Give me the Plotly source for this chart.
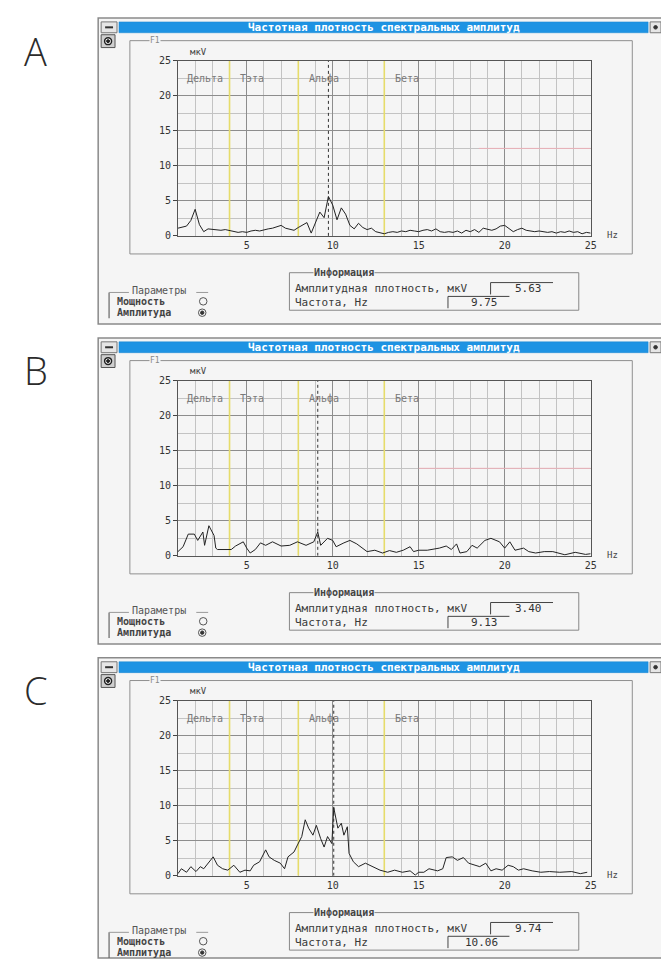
import plotly.graph_objects as go

# The page body has an 8px margin; the figure is shifted to compensate.
PAGE_W, PAGE_H = 669, 965
M = 8
W, H = PAGE_W - M, PAGE_H - M

# ---------------- data ----------------
freq_a = [1.0, 1.25, 1.5, 1.75, 2.0, 2.25, 2.5, 2.75, 3.0, 3.25, 3.5, 3.75, 4.0, 4.25, 4.5, 4.75,
          5.0, 5.25, 5.5, 5.75, 6.0, 6.25, 6.5, 6.75, 7.0, 7.25, 7.5, 7.75, 8.0, 8.25, 8.5, 8.75,
          9.0, 9.25, 9.5, 9.75, 10.0, 10.25, 10.5, 10.75, 11.0, 11.25, 11.5, 11.75, 12.0, 12.25,
          12.5, 12.75, 13.0, 13.25, 13.5, 13.75, 14.0, 14.25, 14.5, 14.75, 15.0, 15.25, 15.5,
          15.75, 16.0, 16.25, 16.5, 16.75, 17.0, 17.25, 17.5, 17.75, 18.0, 18.25, 18.5, 18.75,
          19.0, 19.25, 19.5, 19.75, 20.0, 20.25, 20.5, 20.75, 21.0, 21.25, 21.5, 21.75, 22.0,
          22.25, 22.5, 22.75, 23.0, 23.25, 23.5, 23.75, 24.0, 24.25, 24.5, 24.75, 25.0]
amp_a = [1.1, 1.3, 1.4, 2.2, 3.8, 1.6, 0.6, 1.0, 0.9, 0.8, 0.8, 0.9, 0.8, 0.6, 0.5, 0.6,
         0.5, 0.7, 0.8, 0.7, 0.9, 1.0, 1.1, 1.3, 1.5, 1.1, 1.0, 0.8, 1.2, 1.6, 1.9, 0.4,
         2.0, 3.4, 2.6, 5.63, 4.4, 2.3, 4.0, 3.1, 1.5, 1.0, 1.8, 1.2, 0.9, 1.1,
         0.6, 0.5, 0.3, 0.5, 0.6, 0.5, 0.7, 0.6, 0.8, 0.7, 0.6, 0.8, 0.9,
         0.7, 1.0, 0.6, 0.5, 0.6, 0.5, 0.7, 0.4, 0.8, 0.6, 0.9, 0.5, 1.1,
         0.9, 0.8, 1.0, 1.4, 1.5, 1.0, 0.6, 0.9, 1.1, 0.8, 0.7, 0.6, 0.7,
         0.6, 0.5, 0.6, 0.4, 0.6, 0.5, 0.7, 0.5, 0.6, 0.3, 0.5, 0.4]

freq_b = [1.0, 1.3, 1.6, 1.95, 2.15, 2.45, 2.55, 2.8, 3.1, 3.2, 3.3, 4.1, 4.35, 4.8, 5.0, 5.2,
          5.5, 5.8, 6.1, 6.5, 7.0, 7.5, 7.95, 8.45, 8.9, 9.13, 9.3, 9.7, 10.0, 10.2, 10.65,
          11.0, 11.4, 11.7, 12.0, 12.45, 12.9, 13.3, 13.7, 14.1, 14.5, 14.7, 15.0, 15.5, 16.2,
          16.6, 16.9, 17.2, 17.4, 17.8, 18.1, 18.4, 18.85, 19.2, 19.7, 20.0, 20.3, 20.6, 21.1,
          21.4, 21.8, 22.3, 22.8, 23.5, 24.1, 24.7, 25.0]
amp_b = [0.6, 1.3, 3.1, 3.1, 2.2, 3.4, 1.5, 4.3, 2.9, 1.1, 0.9, 0.9, 1.4, 2.0, 1.1, 0.4,
         0.9, 1.85, 1.5, 2.0, 1.4, 1.5, 2.0, 1.5, 2.0, 3.4, 1.5, 2.5, 2.2, 1.3, 1.85,
         2.2, 1.7, 1.1, 0.6, 0.8, 0.4, 0.75, 0.5, 0.8, 1.3, 0.6, 0.8, 0.8, 1.1,
         1.4, 0.9, 1.7, 0.4, 0.6, 1.5, 1.1, 2.2, 2.5, 2.0, 1.1, 2.0, 0.8, 1.1,
         0.6, 0.4, 0.6, 0.6, 0.15, 0.5, 0.2, 0.3]

freq_c = [1.0, 1.2, 1.5, 1.75, 2.05, 2.3, 2.5, 2.85, 3.05, 3.3, 3.6, 3.9, 4.25, 4.6, 4.9, 5.2,
          5.4, 5.75, 6.1, 6.3, 6.6, 6.95, 7.2, 7.4, 7.75, 7.95, 8.2, 8.4, 8.6, 8.85, 9.05,
          9.3, 9.5, 9.7, 9.95, 10.06, 10.3, 10.5, 10.65, 10.85, 10.95, 11.2, 11.5, 11.9, 12.3,
          12.75, 13.2, 13.6, 14.05, 14.5, 14.8, 15.0, 15.3, 15.6, 16.1, 16.4, 16.6, 16.95,
          17.25, 17.6, 17.9, 18.25, 18.55, 18.9, 19.2, 19.5, 19.85, 20.2, 20.5, 20.8, 21.1,
          21.6, 22.1, 22.6, 23.2, 23.9, 24.4, 24.8]
amp_c = [0.3, 1.0, 0.5, 1.3, 0.6, 1.3, 1.0, 2.0, 2.7, 1.5, 1.0, 0.8, 1.5, 0.5, 0.8, 0.7,
         1.5, 2.0, 3.7, 2.7, 2.2, 1.8, 1.0, 2.7, 3.4, 4.4, 5.6, 8.0, 6.8, 5.8, 7.2,
         5.3, 4.1, 5.6, 4.6, 9.74, 6.8, 7.5, 5.8, 7.0, 3.2, 2.0, 1.3, 1.8, 1.3,
         0.8, 0.5, 0.8, 0.5, 0.7, 0.1, 0.5, 0.5, 1.0, 0.7, 1.0, 2.6, 2.7,
         2.2, 2.6, 1.8, 1.5, 1.3, 1.8, 0.7, 1.0, 0.8, 1.5, 1.3, 0.8, 1.0,
         0.7, 0.5, 0.6, 0.5, 0.6, 0.3, 0.5]

panel_letters = ["A", "B", "C"]
cursor_freq = [9.75, 9.13, 10.06]
cursor_amp_text = ["5.63", "3.40", "9.74"]
cursor_freq_text = ["9.75", "9.13", "10.06"]
band_names = ["Дельта", "Тэта", "Альфа", "Бета"]
band_label_pos = [1.4, 4.5, 8.5, 13.5]
band_edges = [4, 8, 13]
y_ticks = [0, 5, 10, 15, 20, 25]
x_ticks = [5, 10, 15, 20, 25]
# faint pink stretches of the 12.5 gridline seen in the scan (start Hz per panel, None = none)
pink_grid_start = [18.5, 15.0, None]

window_title = "Частотная плотность спектральных амплитуд"
info_title = "Информация"
amp_label = "Амплитудная плотность, мкV"
freq_label = "Частота, Hz"
param_title = "Параметры"
param_power = "Мощность"
param_amp = "Амплитуда"
y_unit = "мкV"
x_unit = "Hz"
group_label = "F1"

series = [(freq_a, amp_a), (freq_b, amp_b), (freq_c, amp_c)]
offsets = [0, 324, 648]

# ---------------- helpers ----------------
FONT = "DejaVu Sans Mono"
WIN_BG = "#f5f5f5"


def X(px):
    return (px - M) / W


def Y(py):
    return 1 - (py - M) / H


shapes = []
annotations = []


def rect(x0, y0, x1, y1, line="#8a8a8a", fill=None, lw=1, layer="below"):
    shapes.append(dict(type="rect", xref="paper", yref="paper",
                       x0=X(x0), x1=X(x1), y0=Y(y1), y1=Y(y0),
                       line=dict(color=line, width=lw),
                       fillcolor=fill if fill else "rgba(0,0,0,0)", layer=layer))


def line(x0, y0, x1, y1, color="#8a8a8a", lw=1, layer="below"):
    shapes.append(dict(type="line", xref="paper", yref="paper",
                       x0=X(x0), x1=X(x1), y0=Y(y0), y1=Y(y1),
                       line=dict(color=color, width=lw), layer=layer))


def circle(cx, cy, r, color="#555", fill=None, lw=1):
    shapes.append(dict(type="circle", xref="paper", yref="paper",
                       x0=X(cx - r), x1=X(cx + r), y0=Y(cy + r), y1=Y(cy - r),
                       line=dict(color=color, width=lw),
                       fillcolor=fill if fill else "rgba(0,0,0,0)", layer="above"))


def txt(s, x, y, size=9, color="#555", xanchor="left", bg=None, family=FONT, weight=None):
    f = dict(family=family, size=size, color=color)
    if weight:
        f["weight"] = weight
    a = dict(text=s, x=X(x), y=Y(y), xref="paper", yref="paper", showarrow=False,
             xanchor=xanchor, yanchor="middle", font=f, borderpad=0)
    if bg:
        a["bgcolor"] = bg
    annotations.append(a)


fig = go.Figure()

for i, o in enumerate(offsets):
    fx, fy = series[i]
    xa = "x" if i == 0 else f"x{i+1}"
    ya = "y" if i == 0 else f"y{i+1}"
    xkey = "xaxis" if i == 0 else f"xaxis{i+1}"
    ykey = "yaxis" if i == 0 else f"yaxis{i+1}"

    # window chrome
    rect(99, 12 + o, 668, min(322 + o, 964), line="#8a8a8a", fill=WIN_BG, lw=1.5)
    rect(120, 16 + o, 654, 27 + o, line="#1a86d0", fill="#1e93e3", lw=0.5)
    txt(window_title, 387, 21.5 + o, size=11, color="#ffffff", xanchor="center", weight="bold")
    rect(102, 16 + o, 118, 27 + o, line="#777", fill="#e6e6e6")
    line(106, 21.5 + o, 114, 21.5 + o, color="#333", lw=2)
    rect(656, 16 + o, 667, 27 + o, line="#777", fill="#e6e6e6")
    circle(661.5, 21.5 + o, 1.8, color="#333", fill="#333")
    rect(102, 29 + o, 116, 42 + o, line="#555", fill="#cfcfcf")
    circle(109, 35.5 + o, 3.5, color="#222", fill="#ffffff", lw=1.5)
    circle(109, 35.5 + o, 1.5, color="#222", fill="#222")

    # chart group box
    rect(131, 35 + o, 638, 251 + o, line="#8f8f8f", lw=1)
    txt(group_label, 150, 35 + o, size=8, color="#888", bg=WIN_BG)
    txt(y_unit, 191, 46 + o, size=9, color="#444")
    txt(x_unit, 611, 232 + o, size=9, color="#444")

    # info group
    rect(292, 270 + o, 584, 308 + o, line="#888", lw=1)
    txt(info_title, 316, 270 + o, size=10, color="#444", bg=WIN_BG, weight="bold")
    txt(amp_label, 297, 286 + o, size=11, color="#3a3a3a")
    line(495, 280 + o, 558, 280 + o, color="#444", lw=1, layer="above")
    line(495, 280 + o, 495, 292 + o, color="#444", lw=1, layer="above")
    txt(cursor_amp_text[i], 548, 286 + o, size=11, color="#333", xanchor="right")
    txt(freq_label, 297, 300 + o, size=11, color="#3a3a3a")
    line(452, 294 + o, 514, 294 + o, color="#444", lw=1, layer="above")
    line(452, 294 + o, 452, 306 + o, color="#444", lw=1, layer="above")
    txt(cursor_freq_text[i], 504, 300 + o, size=11, color="#333", xanchor="right")

    # parameters group
    line(110, 290 + o, 110, 316 + o, color="#666", lw=1.2)
    line(110, 290 + o, 130, 290 + o, color="#999", lw=1)
    line(198, 290 + o, 210, 290 + o, color="#999", lw=1)
    txt(param_title, 132, 288 + o, size=10, color="#555")
    txt(param_power, 117, 299.5 + o, size=10, color="#444", weight="bold")
    circle(205, 299 + o, 3.8, color="#555", lw=1)
    txt(param_amp, 117, 310.5 + o, size=10, color="#444", weight="bold")
    circle(204, 310.5 + o, 3.8, color="#555", lw=1)
    circle(204, 310.5 + o, 1.7, color="#333", fill="#333")

    # panel letter
    txt(panel_letters[i], 36, 45 + o, size=38, color="#2b2b2b", xanchor="center",
        family="Open Sans", weight=300)

    # band boundary lines and cursor
    for e in band_edges:
        shapes.append(dict(type="line", xref=xa, yref=ya, x0=e, x1=e, y0=0, y1=25,
                           line=dict(color="#e6dc6a", width=1.6), layer="between"))
    shapes.append(dict(type="line", xref=xa, yref=ya, x0=cursor_freq[i], x1=cursor_freq[i],
                       y0=0, y1=25, line=dict(color="#333", width=1, dash="dot"),
                       layer="between"))
    if pink_grid_start[i] is not None:
        shapes.append(dict(type="line", xref=xa, yref=ya, x0=pink_grid_start[i], x1=25,
                           y0=12.5, y1=12.5, line=dict(color="#eab0b8", width=1),
                           layer="between"))
    for name, pos in zip(band_names, band_label_pos):
        annotations.append(dict(text=name, x=pos, y=22.5, xref=xa, yref=ya, showarrow=False,
                                xanchor="left", yanchor="middle",
                                font=dict(family=FONT, size=10, color="#7a7a7a")))

    fig.add_trace(go.Scatter(x=fx, y=fy, mode="lines", xaxis=xa, yaxis=ya,
                             line=dict(color="#222", width=1), showlegend=False,
                             hoverinfo="skip"))

    top = 55.5 + o
    bot = 232.7 + o
    fig.layout[xkey] = dict(domain=[X(179.5), X(596)], range=[1, 25], anchor=ya,
                            tickvals=x_ticks, ticks="", showgrid=True,
                            gridcolor="#8d8d8d", gridwidth=1,
                            minor=dict(dtick=1, tick0=0, showgrid=True,
                                       gridcolor="#c3c3c3", gridwidth=1),
                            showline=True, linecolor="#555", linewidth=1, mirror=True,
                            zeroline=False, fixedrange=True,
                            tickfont=dict(family=FONT, size=10, color="#333"))
    fig.layout[ykey] = dict(domain=[Y(bot), Y(top)], range=[0, 25], anchor=xa,
                            tickvals=y_ticks, ticks="outside", ticklen=4, tickcolor="#444",
                            showgrid=True, gridcolor="#8d8d8d", gridwidth=1,
                            minor=dict(dtick=2.5, tick0=0, showgrid=True,
                                       gridcolor="#c3c3c3", gridwidth=1),
                            showline=True, linecolor="#555", linewidth=1, mirror=True,
                            zeroline=False, fixedrange=True,
                            tickfont=dict(family=FONT, size=10, color="#333"))

fig.update_layout(width=W, height=H, margin=dict(l=0, r=0, t=0, b=0),
                  paper_bgcolor="#ffffff", plot_bgcolor="rgba(0,0,0,0)",
                  shapes=shapes, annotations=annotations, showlegend=False)

fig.write_html("out.html", config={"displayModeBar": False})
